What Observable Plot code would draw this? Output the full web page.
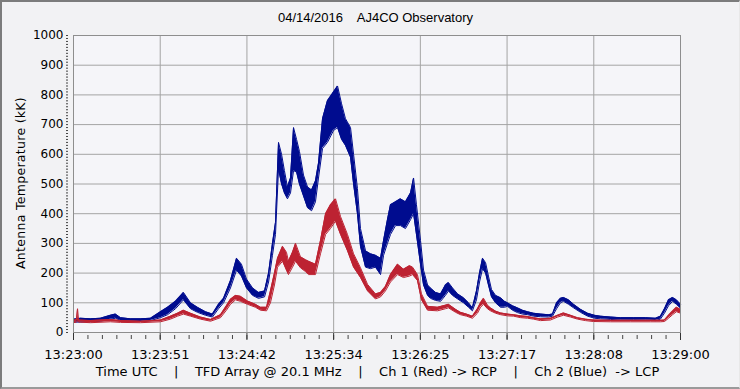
<!DOCTYPE html>
<html><head><meta charset="utf-8">
<script src="https://cdn.jsdelivr.net/npm/d3@7"></script>
<script src="https://cdn.jsdelivr.net/npm/@observablehq/plot@0.6"></script>
<style>
html,body{margin:0;padding:0;background:#f0f0f0;}
#wrap{position:relative;width:740px;height:389px;background:#f2f2f4;overflow:hidden;font-family:"DejaVu Sans",sans-serif;}
#wrap svg{position:absolute;left:0;top:0;}
#border{position:absolute;left:0;top:0;width:740px;height:389px;box-sizing:border-box;border-left:2px solid #7c7c7c;border-top:2px solid #7c7c7c;border-bottom:2px solid #9a9a9a;border-right:1px solid #e8e8e8;pointer-events:none;}
#title{position:absolute;top:10px;left:0;width:751px;text-align:center;font-family:"Liberation Sans",Arial,sans-serif;font-size:13px;white-space:pre;color:#000;}
#ytitle{position:absolute;left:20px;top:183px;transform:translate(-50%,-50%) rotate(-90deg);font-size:12.5px;white-space:nowrap;color:#000;letter-spacing:0.3px;}
#caption{position:absolute;top:364px;left:0;width:755px;text-align:center;font-size:13px;white-space:pre;color:#000;}
</style></head>
<body>
<div id="wrap">
<div id="title"></div>
<div id="ytitle"></div>
<div id="caption"></div>
<div id="border"></div>
</div>
<script>
const titleText = "04/14/2016    AJ4CO Observatory";
const yTitle = "Antenna Temperature (kK)";
const captionText = "Time UTC    |    TFD Array @ 20.1 MHz    |    Ch 1 (Red) -> RCP    |    Ch 2 (Blue)  -> LCP";
const xTickLabels = ["13:23:00","13:23:51","13:24:42","13:25:34","13:26:25","13:27:17","13:28:08","13:29:00"];
const yTickValues = [0,100,200,300,400,500,600,700,800,900,1000];

// seconds after 13:23:00, Ch 2 (Blue, LCP): lower / upper edge of the noisy trace
const blueT  = [0,4.2,10.1,16.0,21.9,24.9,27.9,33.8,39.7,45.7,51.6,55.8,60.5,65.2,69.4,73.5,78.3,82.4,86.0,89.0,93.1,96.7,99.6,102.6,106.2,109.7,113.3,115.7,118.0,119.8,121.6,123.4,125.1,126.9,128.7,130.5,132.3,134.0,136.4,138.8,141.2,143.5,145.3,147.7,150.6,154.2,156.6,159.0,161.3,164.3,166.1,168.4,170.2,173.2,176.1,179.1,182.1,183.9,186.2,188.0,191.0,193.9,196.9,199.9,201.7,203.4,205.8,207.6,210.0,211.7,214.7,217.7,220.6,222.4,224.8,227.8,231.3,234.3,236.6,239.0,240.8,242.6,244.4,246.1,247.9,250.3,253.3,255.6,257.4,260.4,263.3,266.3,269.3,272.8,277.0,281.7,284.1,286.5,288.8,290.6,293.6,296.6,300.7,304.9,309.0,312.6,318.5,324.4,332.1,339.3,345.2,348.1,350.5,352.9,355.3,357.6,360];
const blueLo = [35,35,36,38,45,48,40,38,37,40,50,60,80,110,80,68,58,52,80,100,150,210,190,150,125,115,120,170,260,330,550,500,470,450,470,545,540,500,460,420,410,440,520,620,640,680,690,650,630,590,500,400,290,220,215,220,195,260,300,330,360,360,350,380,400,330,230,160,125,115,108,105,125,140,125,113,100,85,73,110,170,215,200,160,120,100,85,85,88,75,67,62,60,55,53,52,55,80,100,105,95,83,68,55,48,46,44,42,43,42,40,45,65,90,105,95,82];
const blueHi = [45,48,46,48,58,62,50,46,46,48,70,85,105,135,100,85,70,62,95,115,175,250,230,180,150,135,140,200,300,370,640,600,545,490,520,690,650,610,530,490,480,510,570,720,780,810,830,770,720,690,600,485,350,275,265,260,250,310,380,430,440,450,440,470,520,430,310,210,160,150,135,130,160,168,150,130,117,100,83,140,200,250,235,190,145,125,117,105,100,90,83,75,70,65,62,60,62,100,115,118,110,95,78,65,58,55,52,50,50,50,48,55,80,110,118,110,95];

// seconds after 13:23:00, Ch 1 (Red, RCP): lower / upper edge of the noisy trace
const redT  = [0,1.8,2.4,3.0,10.1,21.9,27.9,39.7,51.6,57.5,61.7,65.2,69.4,75.3,81.3,87.2,90.7,93.1,96.1,99.0,103.2,107.9,110.9,114.5,116.8,119.2,121.0,124.0,126.3,127.5,129.9,131.7,134.6,137.6,139.4,143.5,146.5,149.5,152.4,155.4,158.4,162.5,166.1,170.2,174.4,179.1,182.1,185.0,188.0,192.2,195.7,199.3,201.1,204.0,206.4,210.0,215.9,220.6,222.4,226.6,229.5,233.1,236.6,239.6,241.4,243.2,245.5,247.3,250.3,253.3,257.4,261.0,265.1,269.3,272.8,277.0,282.9,287.1,290.6,294.8,298.9,303.7,308.4,318.5,330.4,342.2,348.1,350.5,352.9,355.3,357.6,360];
const redLo = [33,35,40,35,33,36,34,33,36,45,55,62,55,45,38,50,75,95,110,105,95,85,75,73,100,160,220,240,210,195,220,240,218,205,195,195,265,330,350,375,330,275,220,185,140,113,120,140,170,195,185,190,195,175,110,75,73,80,83,68,60,55,48,65,85,95,80,73,65,60,56,55,50,48,45,40,42,52,58,52,45,40,37,36,36,36,36,37,48,60,70,65,58];
const redHi = [40,45,80,42,40,44,40,38,42,55,65,75,65,52,44,60,90,112,125,122,106,95,85,85,140,200,250,290,270,240,270,300,255,245,240,230,310,400,430,450,390,330,265,218,162,130,135,155,195,230,213,225,220,195,130,88,85,92,95,78,68,62,55,80,100,115,92,83,72,66,62,60,56,54,50,46,48,58,66,58,50,45,42,41,41,41,41,42,58,72,85,78,68];

const BLUE = "#000c8f";
const RED = "#bd2232";
const blue = blueT.map((t,i)=>({t, lo: blueLo[i], hi: blueHi[i]}));
const red = redT.map((t,i)=>({t, lo: redLo[i], hi: redHi[i]}));

const span = 360;
const majorX = xTickLabels.map((_,i)=> i*span/(xTickLabels.length-1));
const minorX = d3.range(0, (xTickLabels.length-1)*6+1).map(i=> i*span/((xTickLabels.length-1)*6));
const fmtX = d => xTickLabels[Math.round(d/(span/(xTickLabels.length-1)))];

document.getElementById("title").textContent = titleText;
document.getElementById("ytitle").textContent = yTitle;
document.getElementById("caption").textContent = captionText;

const chart = Plot.plot({
  width: 740, height: 389,
  marginLeft: 73, marginRight: 60, marginTop: 35, marginBottom: 57,
  style: {background: "transparent", fontFamily: "DejaVu Sans, sans-serif", fontSize: "12px", color: "#000", overflow: "visible"},
  x: {domain: [0, span], label: null},
  y: {domain: [0, 1000], label: null},
  marks: [
    Plot.frame({fill: "#f5f5f9", stroke: null}),
    Plot.gridY(yTickValues, {stroke: "#a4a4a4", strokeOpacity: 1}),
    Plot.gridX(majorX, {stroke: "#a4a4a4", strokeOpacity: 1}),
    Plot.areaY(blue, {x: "t", y1: "lo", y2: "hi", fill: BLUE}),
    Plot.lineY(blue, {x: "t", y: "lo", stroke: BLUE, strokeWidth: 1}),
    Plot.lineY(blue, {x: "t", y: "hi", stroke: BLUE, strokeWidth: 1}),
    Plot.areaY(red, {x: "t", y1: "lo", y2: "hi", fill: RED}),
    Plot.lineY(red, {x: "t", y: "lo", stroke: RED, strokeWidth: 1}),
    Plot.lineY(red, {x: "t", y: "hi", stroke: RED, strokeWidth: 1}),
    Plot.frame({stroke: "#8e8e8e"}),
    Plot.axisY(d3.range(0, 1001, 10), {tickSize: 2, dx: -5, text: null, stroke: "#444", label: null}),
    Plot.axisY(yTickValues, {tickSize: 0, tickPadding: 10, tickFormat: d => String(d), label: null, fontSize: 12}),
    Plot.axisX(minorX, {tickSize: 4, dy: 3, text: null, stroke: "#444", label: null}),
    Plot.axisX(majorX, {tickSize: 7, dy: 1, text: null, stroke: "#333", label: null}),
    Plot.axisX(majorX, {tickSize: 0, tickPadding: 17, tickFormat: fmtX, label: null, fontSize: 13})
  ]
});
document.getElementById("wrap").insertBefore(chart, document.getElementById("border"));
</script>
</body></html>
